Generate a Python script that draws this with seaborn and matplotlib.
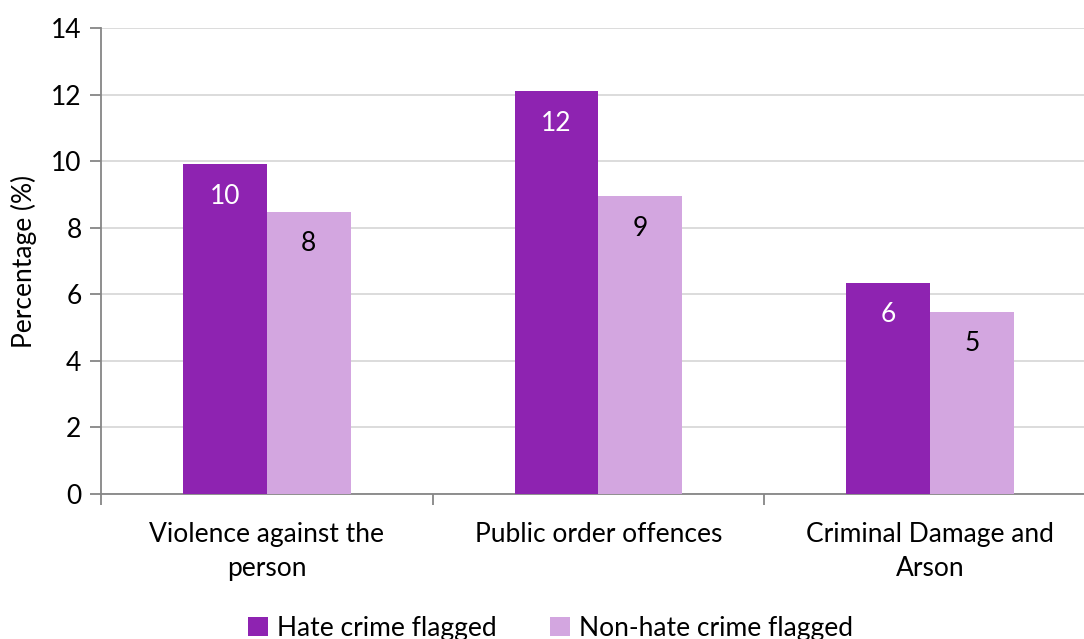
"""Hate crime vs non-hate crime flagged offences, grouped bar chart."""
import matplotlib

matplotlib.use("Agg")
import matplotlib.pyplot as plt
import pandas as pd
import seaborn as sns

# --- data -------------------------------------------------------------------
categories = ["Violence against the\nperson", "Public order offences", "Criminal Damage and\nArson"]
series_names = ["Hate crime flagged", "Non-hate crime flagged"]
hate_values = [9.9, 12.1, 6.35]
non_hate_values = [8.48, 8.95, 5.48]
y_ticks = [0, 2, 4, 6, 8, 10, 12, 14]

palette = {"Hate crime flagged": "#8E23B1", "Non-hate crime flagged": "#D3A6E0"}
label_colors = {"Hate crime flagged": "white", "Non-hate crime flagged": "black"}

df = pd.DataFrame({
    "category": categories * 2,
    "series": [series_names[0]] * 3 + [series_names[1]] * 3,
    "value": hate_values + non_hate_values,
})

FS = 19

sns.set_style("white")
plt.rcParams["font.family"] = ["Lato", "DejaVu Sans"]
plt.rcParams["text.color"] = "black"

fig = plt.figure(figsize=(10.84, 6.39), dpi=100)
ax = fig.add_axes([101 / 1084, 145 / 639, 995 / 1084, 466 / 639])

sns.barplot(
    data=df, x="category", y="value", hue="series", palette=palette,
    width=0.506, saturation=1, linewidth=0, ax=ax, legend=True, zorder=3,
)

# value labels just inside the top of each bar
for cont, name in zip(ax.containers, series_names):
    ax.bar_label(
        cont, labels=[f"{v:.0f}" for v in cont.datavalues], padding=-32,
        color=label_colors[name], fontsize=FS,
    )

ax.set_ylim(0, 14)
ax.set_yticks(y_ticks)
ax.set_xlim(-0.5, 2.5)
ax.yaxis.grid(True, color="#D9D9D9", linewidth=1.3, zorder=0)
ax.set_axisbelow(True)

for side in ("top", "right"):
    ax.spines[side].set_visible(False)
for side in ("left", "bottom"):
    ax.spines[side].set_color("#868686")
    ax.spines[side].set_linewidth(1.3)

ax.tick_params(axis="y", which="major", length=8, width=1.3, color="#868686",
               labelsize=FS, labelcolor="black", pad=6, left=True)
ax.tick_params(axis="x", which="major", length=0, labelsize=FS, labelcolor="black", pad=20)
for lbl in ax.get_xticklabels():
    lbl.set_linespacing(1.45)
ax.set_xticks([-0.5, 0.5, 1.5, 2.5], minor=True)
ax.tick_params(axis="x", which="minor", length=8, width=1.3, color="#868686", bottom=True)

ax.set_xlabel("")
ax.set_ylabel("Percentage (%)", fontsize=FS, color="black", labelpad=10)

handles = ax.get_legend_handles_labels()[0]
ax.get_legend().remove()
fig.legend(
    handles=handles, labels=series_names,
    loc="lower center", bbox_to_anchor=(0.508, -0.04),
    ncol=2, frameon=False, fontsize=FS, handlelength=0.75, handleheight=0.75,
    handletextpad=0.35, columnspacing=2.0,
)

fig.savefig("out.png", dpi=100)
